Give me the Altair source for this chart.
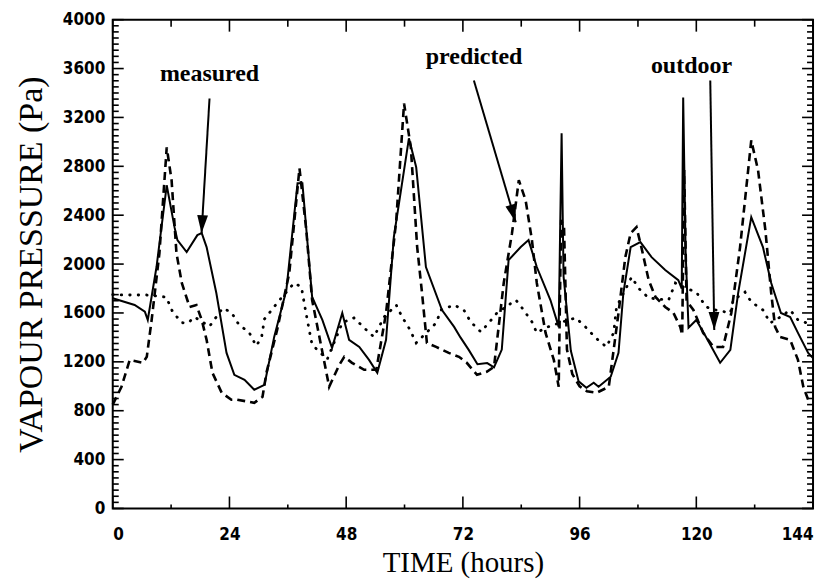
import altair as alt
import pandas as pd

# ---- measured (solid) ----
meas_h = [0, 4.5, 6.6, 7.2, 9, 11.1, 12.7, 13.3, 15.2, 17.4, 18.3, 19.3, 21.3, 23.4, 25, 27.1,
          29.1, 31.2, 33.2, 35.7, 38, 39, 41, 43.1, 45.1, 47.2, 48.6, 50.7, 52.7, 54.4, 56.2,
          57.8, 60.9, 62.4, 64.4, 67.7, 70.2, 71.5, 73.2, 75, 77, 78.4, 80, 81.4, 83.9, 85.5,
          87.2, 90, 91.7, 92.3, 92.7, 94.2, 95.8, 97.4, 98.9, 99.9, 102.4, 104, 105, 106.5,
          108.5, 110.8, 113.6, 116.3, 117.0, 117.3, 117.8, 118.4, 120, 122, 124.9, 127, 128.6,
          131.3, 133.7, 135.4, 137.4, 139.3, 140.9, 143, 144]
meas_v = [1720, 1665, 1610, 1543, 1976, 2645, 2302, 2196, 2098, 2237, 2253, 2139, 1763, 1273, 1094, 1053,
          971, 1012, 1404, 1788, 2661, 2661, 1731, 1543, 1314, 1600, 1380, 1322, 1216, 1110, 1380,
          2220, 3029, 2792, 1976, 1624, 1486, 1400, 1298, 1180, 1190, 1155, 1300, 2033, 2139, 2196,
          1976, 1706, 1486, 3070, 1900, 1290, 1040, 988, 1029, 996, 1078, 1273, 1763, 2139,
          2180, 2057, 1951, 1869, 1800, 3363, 2100, 1480, 1543, 1404, 1192, 1298, 1763,
          2384, 2139, 1845, 1600, 1567, 1437, 1273, 1230]

# ---- predicted (dashed) ----
pred_h = [0, 1.8, 3.5, 6.2, 7, 8, 9.6, 11.1, 12.1, 13.1, 14.2, 15.8, 17.2, 18.3, 19.3, 20.5, 22.4,
          24.4, 25.6, 29.1, 30.8, 31.6, 33.8, 36.3, 38.4, 39.8, 41, 42.9, 44.5, 46.6, 47.6, 49.2,
          51.7, 54.2, 56.2, 58.3, 59.9, 61.3, 62.6, 63.6, 64.6, 66.5, 69.1, 71.2, 72.8, 74.9,
          76.9, 78.4, 80.4, 82.1, 83.5, 84.9, 86.2, 87.2, 89, 90.7, 91.7, 92.2, 92.8, 93.4, 94.5,
          96, 97.5, 99.5, 102, 104, 105.4, 106.5, 107.7, 108.7, 110.2, 111.6, 113.6, 115.3,
          116.7, 117.1, 117.5, 118.0, 119.4, 121.4, 123.5, 125.5, 127.2, 129, 131.3, 132.7,
          134.2, 135.4, 136.2, 137.2, 139.3, 140.9, 142, 143, 144]
pred_v = [850, 996, 1216, 1192, 1241, 1543, 2090, 2955, 2686, 2090, 1845, 1649, 1665, 1543, 1380, 1110, 947,
          890, 890, 865, 914, 1110, 1461, 1927, 2784, 2278, 1706, 1322, 996, 1176, 1241, 1192,
          1135, 1135, 1600, 2359, 3314, 2955, 2139, 1763, 1355, 1322, 1273, 1241, 1192, 1094,
          1118, 1159, 1845, 2253, 2686, 2522, 2196, 1845, 1437, 1216, 996, 2360, 2300, 1300, 1100,
          1000, 960, 947, 996, 1600, 2057, 2253, 2302, 2139, 1869, 1731, 1649, 1600,
          1486, 1420, 2770, 1700, 1624, 1437, 1322, 1322, 1600, 2139, 3012, 2767,
          2278, 1763, 1486, 1404, 1380, 1216, 996, 890, 880]

# ---- outdoor (dotted) ----
out_h = [0, 2, 7, 11, 12.3, 14.2, 15.5, 16.8, 19.9, 22.6, 24.4, 26, 28, 29.5, 30.6, 31.2, 34.3,
         37.3, 38.8, 39.6, 40.4, 41, 44.1, 47.2, 49.6, 51.7, 53.7, 55.8, 58.3, 59.5, 60.9, 62.4,
         66.5, 67.5, 70.2, 72.2, 73.6, 75.7, 77.3, 79, 82.9, 84.5, 86.2, 87.2, 89, 92, 95.2,
         97.4, 99.3, 101.5, 103, 103.6, 106.7, 108.1, 110.2, 114.3, 115.7, 118, 120, 122, 124,
         127, 127.6, 130, 131.3, 133.7, 135.2, 137, 139.3, 140.9, 144]
out_v = [1750, 1747, 1747, 1730, 1610, 1520, 1518, 1567, 1490, 1640, 1605, 1500, 1445, 1330, 1400, 1550, 1706,
         1845, 1812, 1630, 1460, 1340, 1220, 1520, 1560, 1478, 1404, 1567, 1665, 1567, 1478, 1355,
         1518, 1624, 1665, 1624, 1527, 1445, 1518, 1600, 1706, 1624, 1527, 1437, 1480, 1520, 1560,
         1478, 1396, 1322, 1437, 1649, 1894, 1804, 1722, 1706, 1845, 1800, 1771, 1649, 1624,
         1600, 1706, 1771, 1690, 1624, 1518, 1560, 1624, 1543, 1500]

# ---- axes ----
x_major = [0, 24, 48, 72, 96, 120, 144]
x_minor = [12, 36, 60, 84, 108, 132]
y_major = list(range(0, 4001, 400))
y_minor = [v for v in range(0, 4001, 50) if v % 400 != 0]

# ---- annotations ----
ann_label = ["measured", "predicted", "outdoor"]
ann_h = [19.9, 74.3, 119.0]
ann_v = [3502, 3641, 3567]
arr_h0 = [19.9, 74.26, 122.87]
arr_v0 = [3355, 3502, 3502]
arr_h1 = [18.26, 82.87, 123.69]
arr_v1 = [2253, 2343, 1461]
arr_angle = [3.4, 343.5, 359.1]

W, H = 702, 490
xs = alt.Scale(domain=[0, 144], nice=False, zero=False)
ys = alt.Scale(domain=[0, 4000], nice=False, zero=False)

tick_font = "DejaVu Sans Condensed, DejaVu Sans"

meas = pd.DataFrame({"h": meas_h, "v": meas_v})
pred = pd.DataFrame({"h": pred_h, "v": pred_v})
outd = pd.DataFrame({"h": out_h, "v": out_v})

x_axis = alt.Axis(values=x_major, format="d", title="TIME (hours)", ticks=False, domain=False,
                  grid=False, labelFlush=True, labelOverlap=False, labelPadding=18,
                  labelFont=tick_font, labelFontSize=17, labelFontWeight="bold", labelColor="black",
                  titleFont="Liberation Serif", titleFontSize=29, titleFontWeight="normal",
                  titleColor="black", titlePadding=6)
y_axis = alt.Axis(values=y_major, format="d", title="VAPOUR PRESSURE (Pa)", ticks=False,
                  domain=False, grid=False, labelOverlap=False, labelPadding=8,
                  labelFont=tick_font, labelFontSize=17, labelFontWeight="bold", labelColor="black",
                  titleFont="Liberation Serif", titleFontSize=34, titleFontWeight="normal",
                  titleColor="black", titlePadding=14)


def X(field):
    return alt.X(field, scale=xs, axis=x_axis)


def Y(field):
    return alt.Y(field, scale=ys, axis=y_axis)


measured = alt.Chart(meas).mark_line(color="black", strokeWidth=2).encode(x=X("h:Q"), y=Y("v:Q"))
predicted = alt.Chart(pred).mark_line(color="black", strokeWidth=2.6, strokeDash=[8, 5]).encode(
    x=X("h:Q"), y=Y("v:Q"))
outdoor = alt.Chart(outd).mark_line(color="black", strokeWidth=2.8, strokeDash=[0.5, 8],
                                    strokeCap="round").encode(x=X("h:Q"), y=Y("v:Q"))


def xticks(vals, y0, y1):
    return alt.Chart(pd.DataFrame({"t": vals})).mark_rule(color="black", strokeWidth=1.6).encode(
        x=X("t:Q"), y=alt.value(y0), y2=alt.value(y1))


def yticks(vals, x0, x1):
    return alt.Chart(pd.DataFrame({"t": vals})).mark_rule(color="black", strokeWidth=1.6).encode(
        y=Y("t:Q"), x=alt.value(x0), x2=alt.value(x1))


ticks = [
    xticks(x_major, H, H - 12), xticks(x_minor, H, H - 4),
    xticks(x_major, 0, 12), xticks(x_minor, 0, 7),
    yticks(y_major, 0, 11), yticks(y_minor, 0, 6),
    yticks(y_major, W, W - 11), yticks(y_minor, W, W - 6),
]

ann = pd.DataFrame({"label": ann_label, "h": ann_h, "v": ann_v})
arr = pd.DataFrame({"h0": arr_h0, "v0": arr_v0, "h1": arr_h1, "v1": arr_v1, "ang": arr_angle})

texts = alt.Chart(ann).mark_text(font="Liberation Serif", fontSize=24, fontWeight="bold",
                                 align="center", baseline="alphabetic", color="black").encode(
    x=X("h:Q"), y=Y("v:Q"), text="label:N")
shafts = alt.Chart(arr).mark_rule(color="black", strokeWidth=2).encode(
    x=X("h0:Q"), y=Y("v0:Q"), x2="h1:Q", y2="v1:Q")
heads = alt.Chart(arr).mark_point(shape="M0,0L-0.6,-2L0.6,-2Z", size=324, filled=True,
                                  color="black", opacity=1).encode(
    x=X("h1:Q"), y=Y("v1:Q"), angle=alt.Angle("ang:Q", scale=None))

chart = alt.layer(outdoor, predicted, measured, *ticks, shafts, heads, texts).properties(
    width=W, height=H, background="white",
    padding={"left": 6, "top": 2, "right": 5, "bottom": 2},
).configure_view(stroke="black", strokeWidth=2)

chart.save("out.html", embed_options={"renderer": "svg", "actions": False})
